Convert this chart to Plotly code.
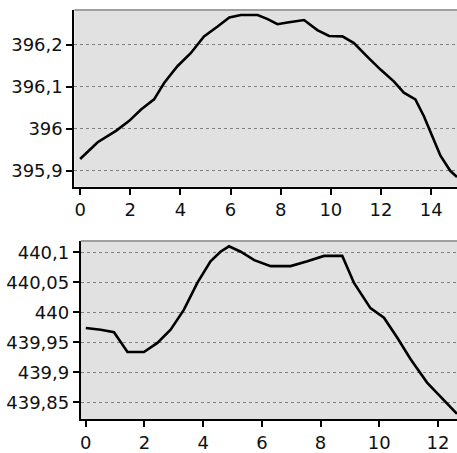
import plotly.graph_objects as go

# Top chart data
top_x = [0, 0.70, 1.43, 1.96, 2.43, 2.95, 3.35, 3.88, 4.41, 4.94, 5.47, 5.95, 6.41, 7.08, 7.48, 7.87,
         8.27, 8.93, 9.46, 9.93, 10.46, 10.92, 11.45, 11.98, 12.51, 12.91, 13.37, 13.71, 14.04, 14.37, 14.76, 15.03]
top_y = [395.928, 395.968, 395.995, 396.019, 396.046, 396.070, 396.109, 396.149, 396.180, 396.220, 396.243,
         396.265, 396.271, 396.271, 396.261, 396.249, 396.253, 396.259, 396.235, 396.221, 396.220, 396.204,
         396.172, 396.141, 396.113, 396.086, 396.070, 396.030, 395.983, 395.936, 395.900, 395.885]
top_xticks = [0, 2, 4, 6, 8, 10, 12, 14]
top_xtext = ["0", "2", "4", "6", "8", "10", "12", "14"]
top_yticks = [395.9, 396.0, 396.1, 396.2]
top_ytext = ["395,9", "396", "396,1", "396,2"]

# Bottom chart data
bot_x = [0, 0.51, 0.96, 1.42, 1.98, 2.44, 2.89, 3.34, 3.80, 4.25, 4.59, 4.88, 5.28, 5.74, 6.30, 6.98,
         7.55, 8.12, 8.74, 9.14, 9.70, 10.16, 10.61, 11.07, 11.63, 12.20, 12.65]
bot_y = [439.974, 439.971, 439.967, 439.934, 439.934, 439.949, 439.971, 440.004, 440.049, 440.085, 440.101,
         440.110, 440.101, 440.087, 440.077, 440.077, 440.085, 440.094, 440.094, 440.049, 440.007, 439.991,
         439.958, 439.922, 439.883, 439.853, 439.831]
bot_xticks = [0, 2, 4, 6, 8, 10, 12]
bot_xtext = ["0", "2", "4", "6", "8", "10", "12"]
bot_yticks = [439.85, 439.9, 439.95, 440.0, 440.05, 440.1]
bot_ytext = ["439,85", "439,9", "439,95", "440", "440,05", "440,1"]

W, H = 457, 453
FONT = dict(family="DejaVu Sans, Verdana, sans-serif", size=18, color="#111111")

fig = go.Figure()
fig.add_trace(go.Scatter(x=top_x, y=top_y, mode="lines", line=dict(color="black", width=2.6),
                         xaxis="x", yaxis="y", showlegend=False, hoverinfo="skip"))
fig.add_trace(go.Scatter(x=bot_x, y=bot_y, mode="lines", line=dict(color="black", width=2.6),
                         xaxis="x2", yaxis="y2", showlegend=False, hoverinfo="skip"))

top_dom_x = [73.5 / W, 1.0]
top_dom_y = [1 - 188 / H, 1 - 10 / H]
bot_dom_x = [80 / W, 1.0]
bot_dom_y = [1 - 422 / H, 1 - 242.5 / H]

xax = dict(showgrid=False, zeroline=False, showline=True, linecolor="black", linewidth=2,
           ticks="outside", ticklen=6, tickwidth=1.5, tickcolor="black", tickfont=FONT, tickmode="array")
yax = dict(showgrid=True, gridcolor="#808080", griddash="dot", gridwidth=1, zeroline=False,
           showline=True, linecolor="black", linewidth=2, ticks="outside", ticklen=6, tickwidth=1.5,
           tickcolor="black", tickfont=FONT, tickmode="array")

fig.update_layout(
    width=W, height=H, margin=dict(l=0, r=0, t=0, b=0),
    paper_bgcolor="white", plot_bgcolor="#e1e1e1",
    xaxis=dict(xax, domain=top_dom_x, range=[-0.23, 15.03], tickvals=top_xticks, ticktext=top_xtext, anchor="y"),
    yaxis=dict(yax, domain=top_dom_y, range=[395.862, 396.283], tickvals=top_yticks, ticktext=top_ytext, anchor="x"),
    xaxis2=dict(xax, domain=bot_dom_x, range=[-0.17, 12.65], tickvals=bot_xticks, ticktext=bot_xtext, anchor="y2"),
    yaxis2=dict(yax, domain=bot_dom_y, range=[439.822, 440.119], tickvals=bot_yticks, ticktext=bot_ytext, anchor="x2"),
    shapes=[
        dict(type="line", xref="paper", yref="paper", x0=top_dom_x[0], x1=1, y0=top_dom_y[1], y1=top_dom_y[1],
             line=dict(color="#a0a0a0", width=2)),
        dict(type="line", xref="paper", yref="paper", x0=bot_dom_x[0], x1=1, y0=bot_dom_y[1], y1=bot_dom_y[1],
             line=dict(color="#a0a0a0", width=2)),
    ],
)

fig.write_html("out.html", config={"displayModeBar": False},
               post_script="document.body.style.margin='0';document.body.style.overflow='hidden';")
